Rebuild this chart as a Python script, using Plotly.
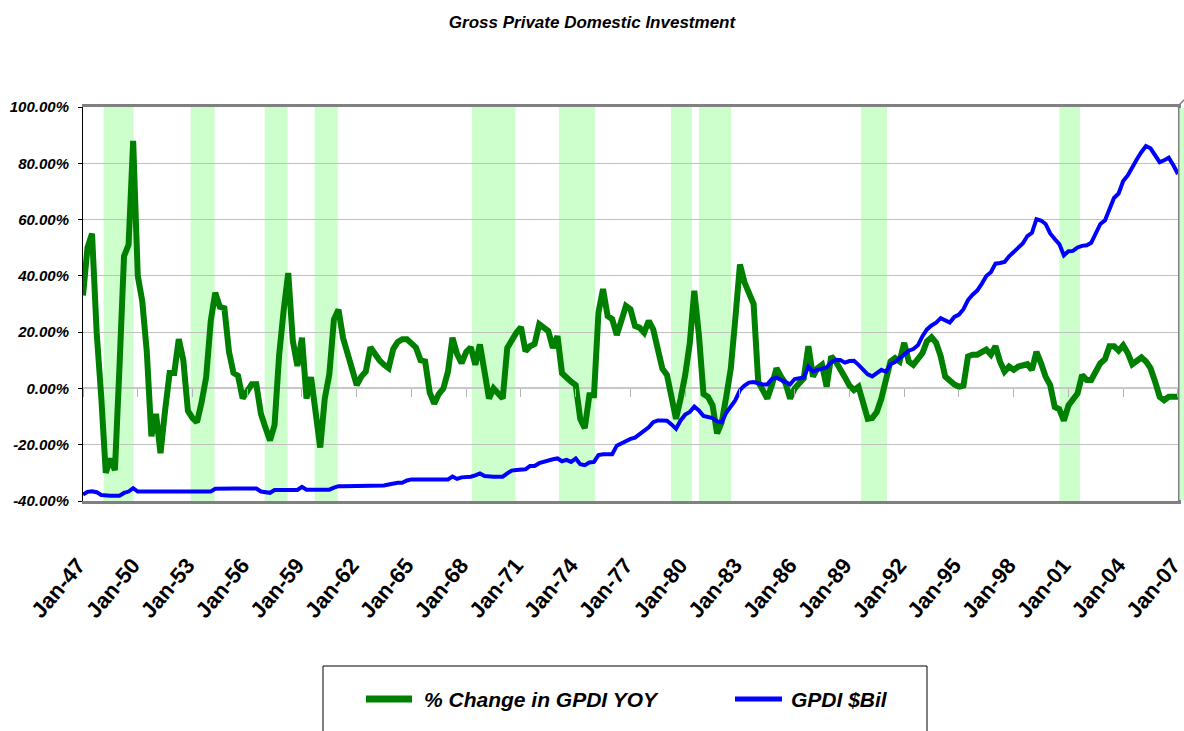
import pandas as pd
import plotly.graph_objects as go

# ---------------- data ----------------
start_quarter = "1947-01-01"
n_quarters = 241
quarters = pd.date_range(start_quarter, periods=n_quarters, freq="QS")

# % change in GPDI, year over year (quarterly, 1947Q1 .. 2007Q1)
pct_change_yoy = [
    33, 50, 55, 20,            # 1947
    -3, -30, -25, -29,         # 1948
    8, 47, 51, 88,             # 1949
    40, 31, 13, -17,           # 1950
    -9, -23, -8, 5.5,          # 1951
    5.5, 17.5, 10, -8,         # 1952
    -10.5, -12, -5, 4,         # 1953
    24, 34, 29, 28.5,          # 1954
    13, 5.5, 4.5, -3.5,        # 1955
    -1, 1.5, 1.5, -9,          # 1956
    -14, -18.5, -13, 12,       # 1957
    28, 41, 17, 8,             # 1958
    18, -3.6, 4, -8.4,         # 1959
    -21, -3.6, 5, 24.5,        # 1960
    28, 18, 12, 6.6,           # 1961
    1.2, 4.2, 6, 14.6,         # 1962
    12, 10, 8.4, 7.2,          # 1963
    14, 16.5, 17.5, 17.5,      # 1964
    16, 14.5, 10, 9.6,         # 1965
    -1.5, -5.4, -2, 0,         # 1966
    6, 18, 12.3, 9,            # 1967
    13, 14.6, 8.4, 15.6,       # 1968
    6, -3.6, 0, -2,            # 1969
    -3.6, 14.4, 17.4, 19.8,    # 1970
    21.8, 13.2, 15, 15.8,      # 1971
    22.8, 21.6, 20.4, 14.4,    # 1972
    18.6, 5.4, 3.6, 2.4,       # 1973
    1.2, -10.8, -14.1, -2.4,   # 1974
    -2.4, 27, 35.3, 25.7,      # 1975
    24.6, 19, 24, 29.3,        # 1976
    28.1, 22.2, 21.6, 19.8,    # 1977
    24, 21, 14, 7,             # 1978
    4.8, -3, -10.8, -3.6,      # 1979
    4.8, 16, 34.7, 19,         # 1980
    -2, -3, -6, -16,           # 1981
    -12, -3, 7, 25,            # 1982
    44, 37.7, 34, 30,          # 1983
    2.4, -1.2, -3.6, 1.2,      # 1984
    7.2, 4.2, 1.8, -3.6,       # 1985
    0, 1.8, 3.6, 15,           # 1986
    4.2, 7.2, 8.4, 0.6,        # 1987
    11.4, 9.6, 7.2, 4,         # 1988
    1, -0.6, 0.6, -6,          # 1989
    -10.8, -10.5, -8.4, -3.6,  # 1990
    3.6, 9.6, 10.8, 9.6,       # 1991
    16.2, 9.6, 8.4, 10.8,      # 1992
    12.6, 16.8, 18.2, 16.2,    # 1993
    11.4, 4.2, 2.6, 1.4,       # 1994
    0.6, 1, 11.4, 12,          # 1995
    12, 13.2, 13.8, 12,        # 1996
    15, 9.6, 6, 7.8,           # 1997
    6.6, 7.8, 8.4, 8.6,        # 1998
    6.6, 13, 9, 4.2,           # 1999
    1.2, -6.6, -7.4, -11.4,    # 2000
    -6, -4.2, -1.8, 4.8,       # 2001
    3, 3, 6.2, 9,              # 2002
    10.4, 15, 15, 13.4,        # 2003
    15.3, 12.6, 8.6, 9.6,      # 2004
    11, 9.6, 7.2, 2.4,         # 2005
    -3, -4.2, -3, -3,          # 2006
    -3,                        # 2007
]

# GPDI level, $ billions (secondary axis)
gpdi_bil = [
    41, 58, 62, 56,            # 1947
    38, 34, 34, 34,            # 1948
    34, 51, 60, 81,            # 1949
    60, 60, 60, 60,            # 1950
    60, 60, 60, 60,            # 1951
    60, 60, 60, 60,            # 1952
    60, 60, 60, 60,            # 1953
    60, 77, 79, 79,            # 1954
    79, 79, 79, 79,            # 1955
    79, 79, 79, 60,            # 1956
    56, 52, 70, 72,            # 1957
    70, 70, 70, 70,            # 1958
    90, 72, 72, 72,            # 1959
    72, 72, 72, 85,            # 1960
    94, 94, 94, 94,            # 1961
    95, 95, 96, 96,            # 1962
    96, 97, 98, 105,           # 1963
    113, 116, 116, 130,        # 1964
    137, 137, 137, 137,        # 1965
    137, 137, 137, 137,        # 1966
    137, 155, 140, 150,        # 1967
    150, 154, 163, 175,        # 1968
    158, 154, 154, 154,        # 1969
    154, 175, 193, 197,        # 1970
    197, 201, 222, 222,        # 1971
    240, 250, 255, 265,        # 1972
    270, 252, 261, 248,        # 1973
    270, 233, 227, 244,        # 1974
    248, 291, 297, 297,        # 1975
    297, 351, 366, 383,        # 1976
    394, 402, 426, 447,        # 1977
    468, 500, 511, 511,        # 1978
    509, 486, 458, 511,        # 1979
    548, 565, 599, 575,        # 1980
    539, 533, 526, 505,        # 1981
    500, 560, 603, 640,        # 1982
    704, 732, 751, 755,        # 1983
    747, 740, 740, 774,        # 1984
    783, 768, 753, 740,        # 1985
    774, 779, 783, 853,        # 1986
    821, 832, 838, 847,        # 1987
    881, 894, 894, 878,        # 1988
    888, 890, 864, 838,        # 1989
    804, 791, 811, 832,        # 1990
    820, 868, 881, 907,        # 1991
    933, 954, 964, 988,        # 1992
    1046, 1089, 1114, 1132,    # 1993
    1160, 1147, 1132, 1168,    # 1994
    1183, 1217, 1275, 1309,    # 1995
    1335, 1378, 1427, 1452,    # 1996
    1506, 1510, 1517, 1553,    # 1997
    1581, 1609, 1634, 1681,    # 1998
    1702, 1788, 1780, 1758,    # 1999
    1698, 1662, 1630, 1559,    # 2000
    1585, 1587, 1609, 1619,    # 2001
    1623, 1638, 1698, 1758,    # 2002
    1780, 1848, 1923, 1951,    # 2003
    2030, 2066, 2122, 2169,    # 2004
    2215, 2252, 2238, 2195,    # 2005
    2150, 2162, 2178, 2130,    # 2006
    2075,                      # 2007
]

# shaded (recession) bands
band_start = ["1948-02-19", "1952-11-24", "1956-12-16", "1959-09-13", "1968-04-22",
              "1973-01-30", "1979-03-21", "1980-10-01", "1989-08-22", "2000-07-05"]
band_end = ["1949-10-12", "1954-03-20", "1958-03-17", "1960-12-16", "1970-09-16",
            "1975-01-19", "1980-05-15", "1982-07-05", "1991-01-23", "2001-08-22"]

y_ticks = [-40, -20, 0, 20, 40, 60, 80, 100]
y_tick_text = ["-40.00%", "-20.00%", "0.00%", "20.00%", "40.00%", "60.00%", "80.00%", "100.00%"]

series_names = ["% Change in GPDI YOY", "GPDI $Bil"]

# ---------------- styling ----------------
W, H = 1184, 731
M_L, M_R, M_T, M_B = 83, 6, 107, 230
GREEN = "#008000"
BLUE = "#0000ff"
BAND = "#ccffcc"
ARIAL = "Liberation Sans, Arial, sans-serif"

pw = W - M_L - M_R
ph = H - M_T - M_B


def px_x(px):
    return (px - M_L) / pw


def px_y(py):
    return (M_T + ph - py) / ph


fig = go.Figure()
fig.add_trace(go.Scatter(
    x=quarters, y=pct_change_yoy, name=series_names[0],
    mode="lines", line=dict(color=GREEN, width=6), yaxis="y", xaxis="x",
    showlegend=False))
fig.add_trace(go.Scatter(
    x=quarters, y=gpdi_bil, name=series_names[1],
    mode="lines", line=dict(color=BLUE, width=4), yaxis="y2", xaxis="x",
    showlegend=False))
# carrier for the tick marks on the zero line (draws nothing)
fig.add_trace(go.Scatter(x=[quarters[0]], y=[None], xaxis="x2", yaxis="y",
                         mode="lines", showlegend=False, hoverinfo="skip"))

shapes = []
for s, e in zip(band_start, band_end):
    shapes.append(dict(type="rect", xref="x", yref="paper", x0=s, x1=e, y0=0, y1=1,
                       fillcolor=BAND, line=dict(width=0), layer="below"))

# strip beyond the right edge and corner bevel (chart frame decoration)
shapes.append(dict(type="rect", xref="paper", yref="paper",
                   x0=px_x(1179.5), x1=px_x(1186), y0=px_y(500), y1=px_y(108),
                   fillcolor=BAND, line=dict(width=0), layer="above"))
shapes.append(dict(type="line", xref="paper", yref="paper",
                   x0=px_x(1177), x1=px_x(1185), y0=px_y(107), y1=px_y(99),
                   line=dict(color="#808080", width=1.5)))

# legend (drawn by hand to match the boxed legend of the original)
leg_y = px_y(699)
shapes.append(dict(type="rect", xref="paper", yref="paper",
                   x0=px_x(323), x1=px_x(927), y0=px_y(745), y1=px_y(666),
                   fillcolor="white", line=dict(color="black", width=1)))
shapes.append(dict(type="line", xref="paper", yref="paper",
                   x0=px_x(366), x1=px_x(412), y0=leg_y, y1=leg_y,
                   line=dict(color=GREEN, width=7)))
shapes.append(dict(type="line", xref="paper", yref="paper",
                   x0=px_x(735), x1=px_x(782), y0=leg_y, y1=leg_y,
                   line=dict(color=BLUE, width=5)))
legend_font = dict(family=ARIAL, size=21, color="black", weight="bold", style="italic")
annotations = [
    dict(text=series_names[0], xref="paper", yref="paper", x=px_x(422), y=leg_y,
         xanchor="left", yanchor="middle", showarrow=False, font=legend_font),
    dict(text=series_names[1], xref="paper", yref="paper", x=px_x(789), y=leg_y,
         xanchor="left", yanchor="middle", showarrow=False, font=legend_font),
]

# range ends one day after the last quarter so that the Jan-07 tick is kept
x_range = [quarters[0], quarters[-1] + pd.Timedelta(days=1)]

fig.update_layout(
    width=W, height=H, autosize=False,
    margin=dict(l=M_L, r=M_R, t=M_T, b=M_B, autoexpand=False),
    paper_bgcolor="white", plot_bgcolor="white",
    title=dict(text="Gross Private Domestic Investment", x=0.5, xref="container",
               xanchor="center", y=1 - 22 / H, yref="container", yanchor="middle",
               font=dict(family=ARIAL, size=17, color="black", weight="bold", style="italic")),
    xaxis=dict(type="date", range=x_range, tick0=start_quarter, dtick="M36",
               tickformat="%b-%y", tickangle=-50, ticks="", showgrid=False,
               showline=True, mirror=True, linecolor="#808080", linewidth=2.5,
               ticklabelstandoff=40, ticklabelshift=-5, ticklabeloverflow="allow",
               automargin=False,
               tickfont=dict(family=ARIAL, size=22, color="black", weight="bold"),
               zeroline=False),
    xaxis2=dict(type="date", range=x_range, tick0=start_quarter, dtick="M36",
                overlaying="x", anchor="free", position=40 / 140, side="bottom",
                ticks="outside", ticklen=8, tickcolor="#b4b4b4", tickwidth=1,
                showticklabels=False, showgrid=False, showline=False, zeroline=False),
    yaxis=dict(range=[-40, 100], tickvals=y_ticks, ticktext=y_tick_text,
               showgrid=True, gridcolor="#c0c0c0", gridwidth=1,
               zeroline=True, zerolinecolor="#c8c8c8", zerolinewidth=2,
               showline=True, linecolor="black", linewidth=1, automargin=False,
               ticks="outside", ticklen=4, tickcolor="black", ticklabelstandoff=6,
               tickfont=dict(family=ARIAL, size=15, color="black", weight="bold", style="italic")),
    yaxis2=dict(range=[0, 2500], overlaying="y", side="right", showticklabels=False,
                showgrid=False, zeroline=False, ticks="", automargin=False,
                showline=True, linecolor="#808080", linewidth=2.5),
    shapes=shapes,
    annotations=annotations,
    showlegend=False,
)

fig.write_html(
    "out.html",
    config={"displayModeBar": False},
    post_script="document.body.style.margin='0';document.body.style.overflow='hidden';",
)
